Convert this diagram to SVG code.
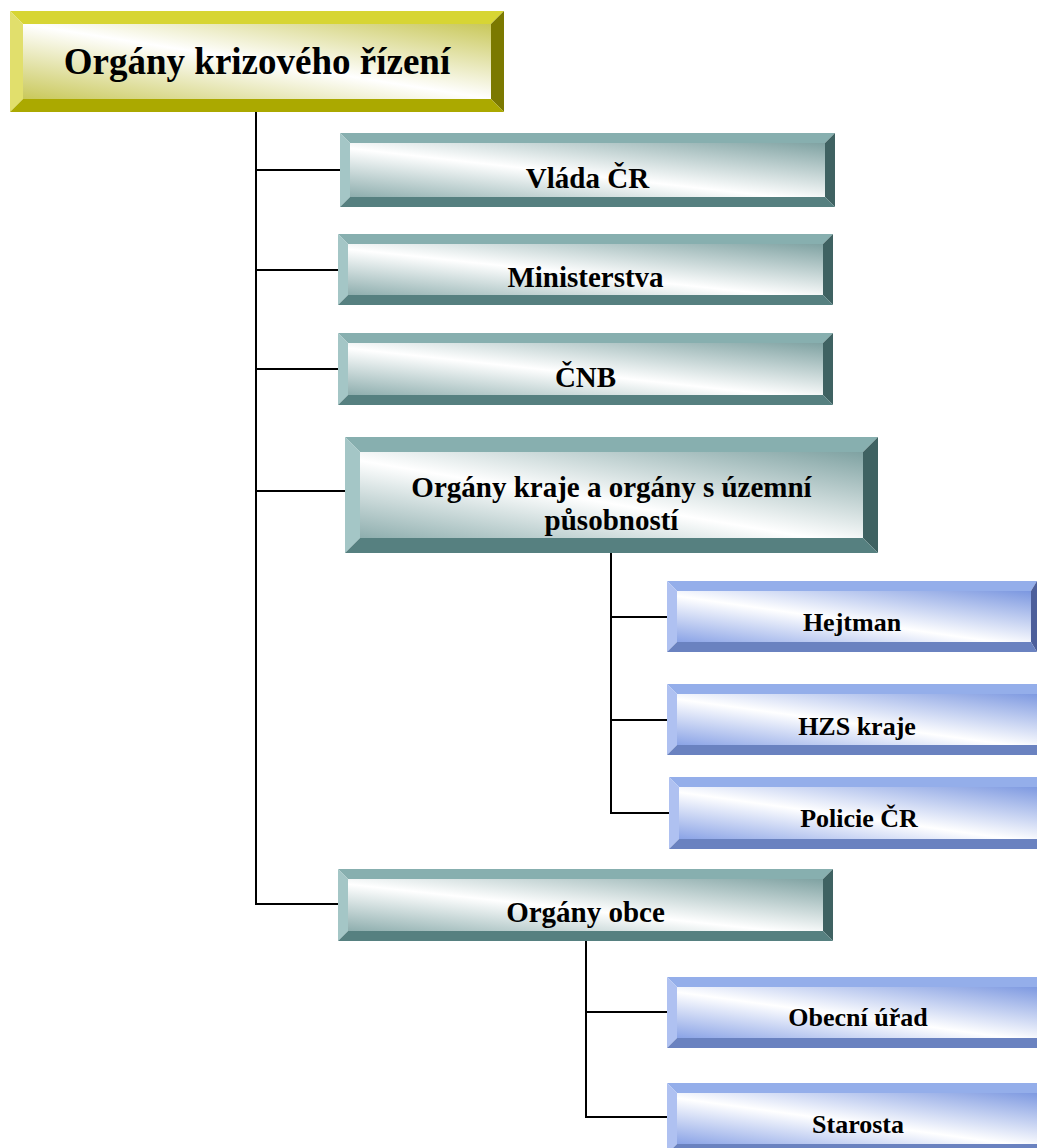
<svg xmlns="http://www.w3.org/2000/svg" width="1037" height="1148" viewBox="0 0 1037 1148">
<defs>
<linearGradient id="gY" x1="1" y1="0" x2="0" y2="1">
<stop offset="0" stop-color="#c9c85a"/><stop offset="0.5" stop-color="#ffffff"/><stop offset="1" stop-color="#c9c85a"/>
</linearGradient>
<linearGradient id="gT" x1="1" y1="0" x2="0" y2="1">
<stop offset="0" stop-color="#7fa2a2"/><stop offset="0.55" stop-color="#ffffff"/><stop offset="1" stop-color="#8eaeae"/>
</linearGradient>
<linearGradient id="gB" x1="1" y1="0" x2="0" y2="1">
<stop offset="0" stop-color="#7b97e0"/><stop offset="0.55" stop-color="#ffffff"/><stop offset="1" stop-color="#8aa3e6"/>
</linearGradient>
<style>
.yt{fill:#d7d534}.yl{fill:#e1df6c}.yr{fill:#7b7900}.yb{fill:#aba900}.yf{fill:url(#gY)}
.tt{fill:#87afaf}.tl{fill:#a4c6c6}.tr{fill:#3f6262}.tb{fill:#568080}.tf{fill:url(#gT)}
.bt{fill:#94aeea}.bl{fill:#afc1f1}.br{fill:#4d5f9b}.bb{fill:#6a82c0}.bf{fill:url(#gB)}
text{font-family:"Liberation Serif","Times New Roman",serif;font-weight:bold;fill:#000;text-anchor:middle}
.t1{font-size:37px}.t2{font-size:29px}.t3{font-size:26px}
.con{fill:none;stroke:#000;stroke-width:2}
</style>
</defs>
<rect width="1037" height="1148" fill="#ffffff"/>
<g id="connectors" class="con">
<path d="M256,112 V905 M256,170 H340 M256,270 H338 M256,369 H338 M256,491 H345 M256,904 H338"/>
<path d="M611,553 V814 M611,617 H667 M611,720 H667 M611,813 H669"/>
<path d="M586,941 V1118 M586,1012 H667 M586,1117 H667"/>
</g>
<g id="n-root">
<polygon class="yt" points="10,11 504,11 491,24 23,24"/>
<polygon class="yl" points="10,11 23,24 23,99 10,112"/>
<polygon class="yr" points="504,11 504,112 491,99 491,24"/>
<polygon class="yb" points="10,112 23,99 491,99 504,112"/>
<rect class="yf" x="23" y="24" width="468" height="75"/>
<text class="t1" x="257" y="74">Orgány krizového řízení</text>
</g>
<g id="n-vlada">
<polygon class="tt" points="340,133 835,133 825,143 350,143"/>
<polygon class="tl" points="340,133 350,143 350,197 340,207"/>
<polygon class="tr" points="835,133 835,207 825,197 825,143"/>
<polygon class="tb" points="340,207 350,197 825,197 835,207"/>
<rect class="tf" x="350" y="143" width="475" height="54"/>
<text class="t2" x="587.5" y="188">Vláda ČR</text>
</g>
<g id="n-ministerstva">
<polygon class="tt" points="338,234 833,234 823,244 348,244"/>
<polygon class="tl" points="338,234 348,244 348,295 338,305"/>
<polygon class="tr" points="833,234 833,305 823,295 823,244"/>
<polygon class="tb" points="338,305 348,295 823,295 833,305"/>
<rect class="tf" x="348" y="244" width="475" height="51"/>
<text class="t2" x="585.5" y="287">Ministerstva</text>
</g>
<g id="n-cnb">
<polygon class="tt" points="338,333 833,333 823,343 348,343"/>
<polygon class="tl" points="338,333 348,343 348,395 338,405"/>
<polygon class="tr" points="833,333 833,405 823,395 823,343"/>
<polygon class="tb" points="338,405 348,395 823,395 833,405"/>
<rect class="tf" x="348" y="343" width="475" height="52"/>
<text class="t2" x="585.5" y="387">ČNB</text>
</g>
<g id="n-kraj">
<polygon class="tt" points="345,437 878,437 863,452 360,452"/>
<polygon class="tl" points="345,437 360,452 360,538 345,553"/>
<polygon class="tr" points="878,437 878,553 863,538 863,452"/>
<polygon class="tb" points="345,553 360,538 863,538 878,553"/>
<rect class="tf" x="360" y="452" width="503" height="86"/>
<text class="t2" x="611.5" y="497">Orgány kraje a orgány s územní</text>
<text class="t2" x="611.5" y="530">působností</text>
</g>
<g id="n-hejtman">
<polygon class="bt" points="667,581 1037,581 1031,591 677,591"/>
<polygon class="bl" points="667,581 677,591 677,642 667,652"/>
<polygon class="br" points="1037,581 1037,652 1031,642 1031,591"/>
<polygon class="bb" points="667,652 677,642 1031,642 1037,652"/>
<rect class="bf" x="677" y="591" width="354" height="51"/>
<text class="t3" x="852" y="631">Hejtman</text>
</g>
<g id="n-hzs">
<polygon class="bt" points="667,684 1047,684 1037,694 677,694"/>
<polygon class="bl" points="667,684 677,694 677,745 667,755"/>
<polygon class="bb" points="667,755 677,745 1037,745 1047,755"/>
<rect class="bf" x="677" y="694" width="370" height="51"/>
<text class="t3" x="857" y="735">HZS kraje</text>
</g>
<g id="n-policie">
<polygon class="bt" points="669,777 1047,777 1037,787 679,787"/>
<polygon class="bl" points="669,777 679,787 679,839 669,849"/>
<polygon class="bb" points="669,849 679,839 1037,839 1047,849"/>
<rect class="bf" x="679" y="787" width="368" height="52"/>
<text class="t3" x="859" y="827">Policie ČR</text>
</g>
<g id="n-obce">
<polygon class="tt" points="338,869 833,869 823,879 348,879"/>
<polygon class="tl" points="338,869 348,879 348,931 338,941"/>
<polygon class="tr" points="833,869 833,941 823,931 823,879"/>
<polygon class="tb" points="338,941 348,931 823,931 833,941"/>
<rect class="tf" x="348" y="879" width="475" height="52"/>
<text class="t2" x="585.5" y="922">Orgány obce</text>
</g>
<g id="n-urad">
<polygon class="bt" points="667,977 1047,977 1037,987 677,987"/>
<polygon class="bl" points="667,977 677,987 677,1038 667,1048"/>
<polygon class="bb" points="667,1048 677,1038 1037,1038 1047,1048"/>
<rect class="bf" x="677" y="987" width="370" height="51"/>
<text class="t3" x="858" y="1026">Obecní úřad</text>
</g>
<g id="n-starosta">
<polygon class="bt" points="667,1083 1047,1083 1037,1093 677,1093"/>
<polygon class="bl" points="667,1083 677,1093 677,1144 667,1154"/>
<polygon class="bb" points="667,1154 677,1144 1037,1144 1047,1154"/>
<rect class="bf" x="677" y="1093" width="370" height="51"/>
<text class="t3" x="858" y="1133">Starosta</text>
</g>
</svg>
